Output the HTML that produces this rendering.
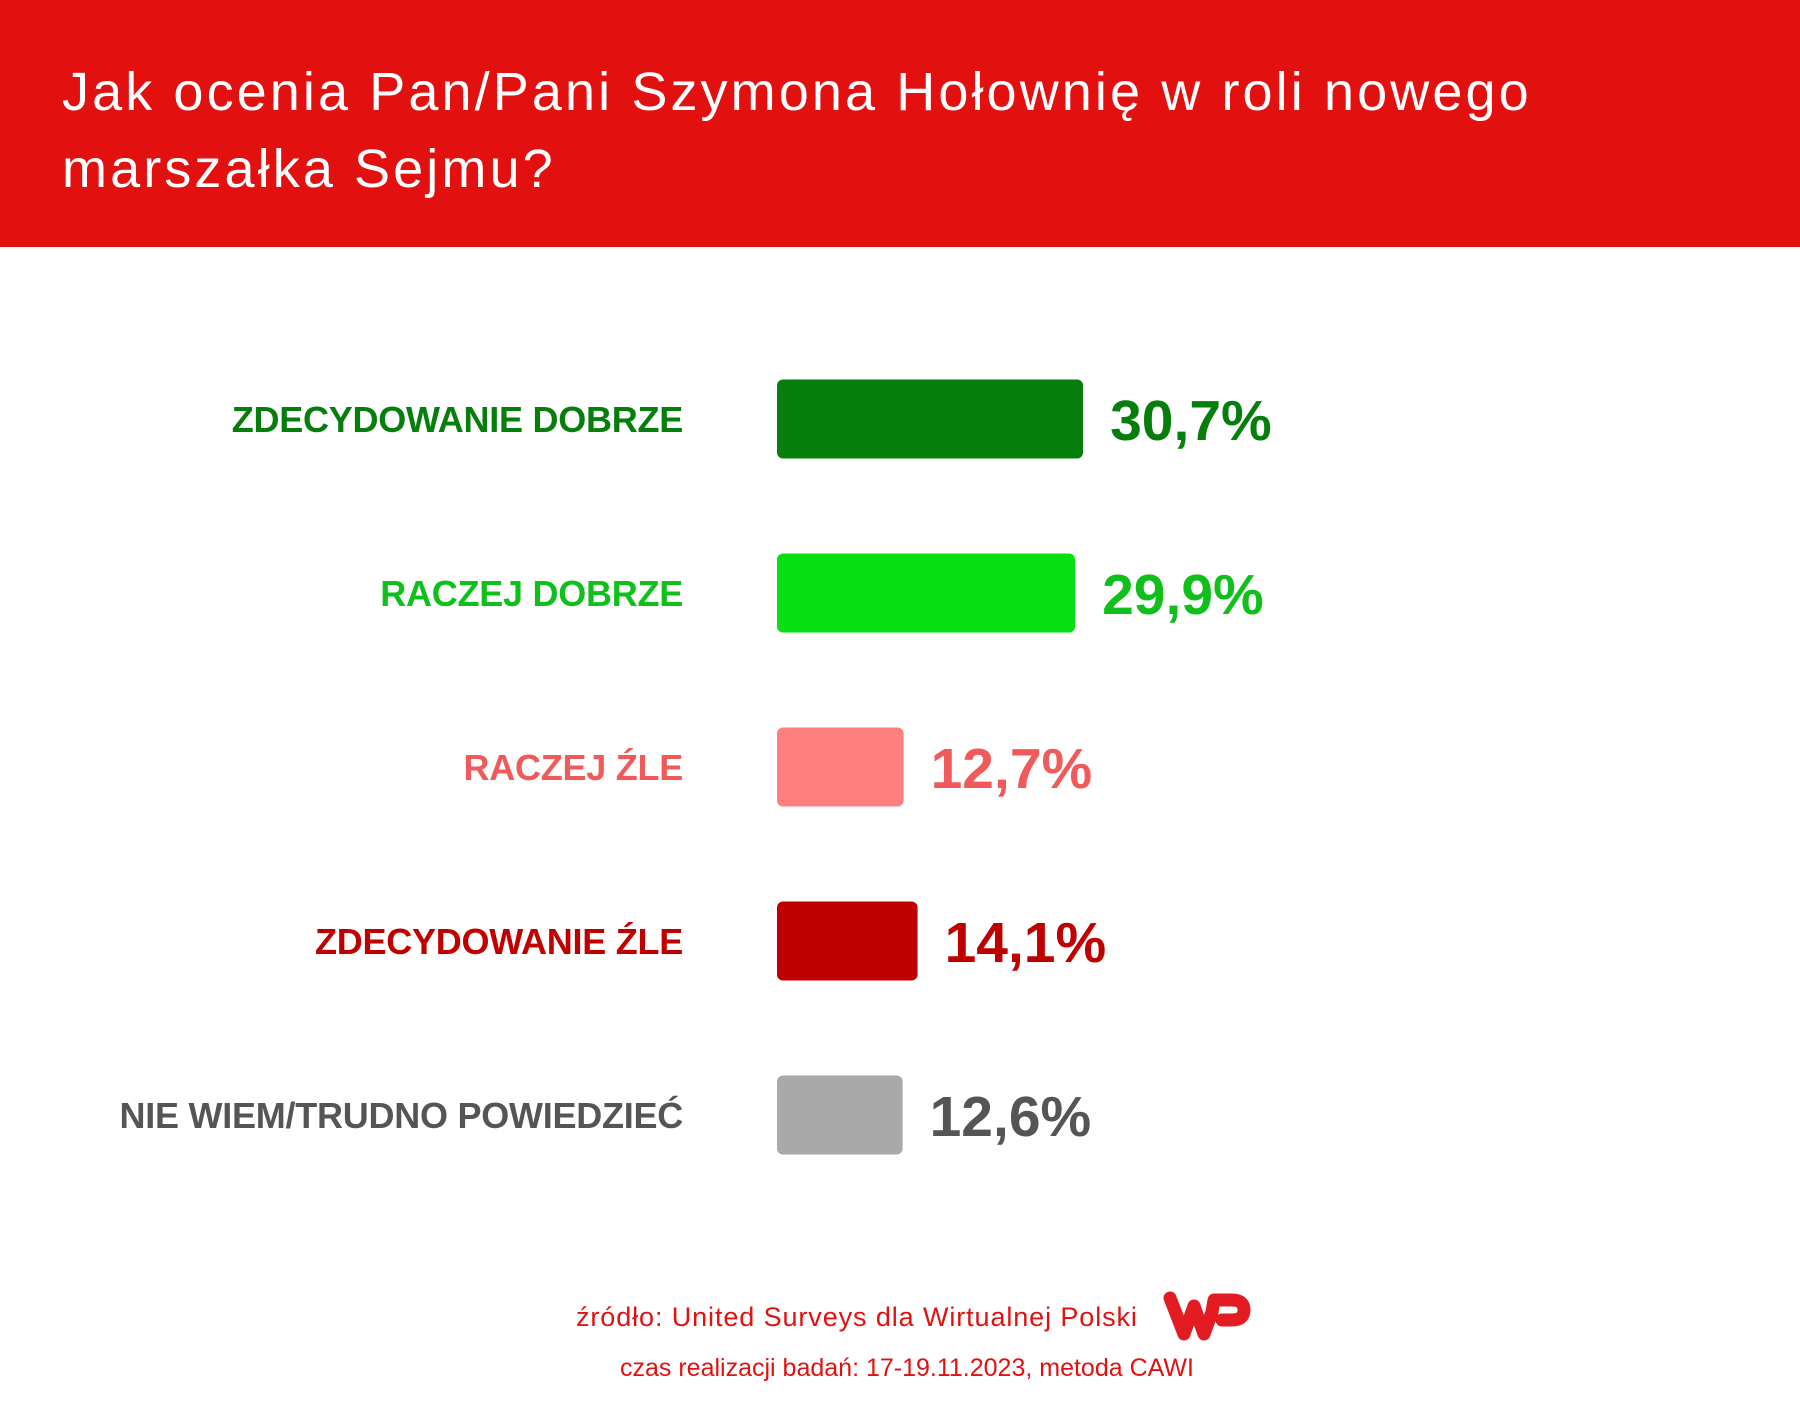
<!DOCTYPE html>
<html><head><meta charset="utf-8"><style>
body{margin:0;width:1800px;height:1425px;background:#fff;overflow:hidden;font-family:"Liberation Sans",sans-serif;}
#hdr{position:absolute;left:0;top:0;width:1800px;height:247px;background:#e31010;}
#hdr div{position:absolute;left:62px;color:#fff;font-size:54px;line-height:1;letter-spacing:3.1px;}
</style></head><body>
<div id="hdr">
<div style="top:65px">Jak ocenia Pan/Pani Szymona Hołownię w roli nowego</div>
<div style="top:142px">marszałka Sejmu?</div>
</div>
<svg id="chart" width="1800" height="1425" style="position:absolute;left:0;top:0"></svg>
<script>
const categories=["ZDECYDOWANIE DOBRZE","RACZEJ DOBRZE","RACZEJ ŹLE","ZDECYDOWANIE ŹLE","NIE WIEM/TRUDNO POWIEDZIEĆ"];
const values=[30.7,29.9,12.7,14.1,12.6];
const valueLabels=["30,7%","29,9%","12,7%","14,1%","12,6%"];
const barColors=["#067e0c","#06e012","#ff7f7f","#c00000","#a9a9a9"];
const textColors=["#067e0c","#10c01a","#f05a5a","#c00000","#555555"];
const svg=document.getElementById('chart');
const NS="http://www.w3.org/2000/svg";
const x0=777, pxPer=9.97;
function xs(v){return v*pxPer;}
function yc(i){return 419+i*174;}
categories.forEach((c,i)=>{
  const w=xs(values[i]);
  const r=document.createElementNS(NS,'rect');
  r.setAttribute('x',x0);r.setAttribute('y',yc(i)-39.5);r.setAttribute('width',w);r.setAttribute('height',79);
  r.setAttribute('rx',6);r.setAttribute('fill',barColors[i]);
  
  
  svg.appendChild(r);
  const t=document.createElementNS(NS,'text');
  t.setAttribute('x',683);t.setAttribute('y',yc(i)+13);t.setAttribute('text-anchor','end');
  t.setAttribute('font-size','36');t.setAttribute('font-weight','bold');t.setAttribute('fill',textColors[i]);
  t.setAttribute('letter-spacing','-0.25');
  t.textContent=c;
  
  
  svg.appendChild(t);
  const v=document.createElementNS(NS,'text');
  v.setAttribute('x',x0+w+27);v.setAttribute('y',yc(i)+21);
  v.setAttribute('font-size','57');v.setAttribute('font-weight','bold');v.setAttribute('fill',textColors[i]);
  v.setAttribute('letter-spacing','0');
  v.textContent=valueLabels[i];
  
  
  svg.appendChild(v);
});
</script>
<div style="position:absolute;left:576px;top:1302px;font-size:27px;letter-spacing:0.9px;color:#e31010;white-space:nowrap">źródło: United Surveys dla Wirtualnej Polski</div>
<svg style="position:absolute;left:1160px;top:1288px" width="92" height="56" viewBox="0 0 92 56">
<path d="M10 10 L24 46 L34 18 L44 46 L52 24 L54 12 L72 12 Q84 12 84 22 Q84 32 72 32 L62 32" fill="none" stroke="#e31b23" stroke-width="13" stroke-linecap="round" stroke-linejoin="round"/>
</svg>
<div style="position:absolute;left:620px;top:1354px;font-size:25px;color:#e31010;white-space:nowrap">czas realizacji badań: 17-19.11.2023, metoda CAWI</div>
</body></html>
